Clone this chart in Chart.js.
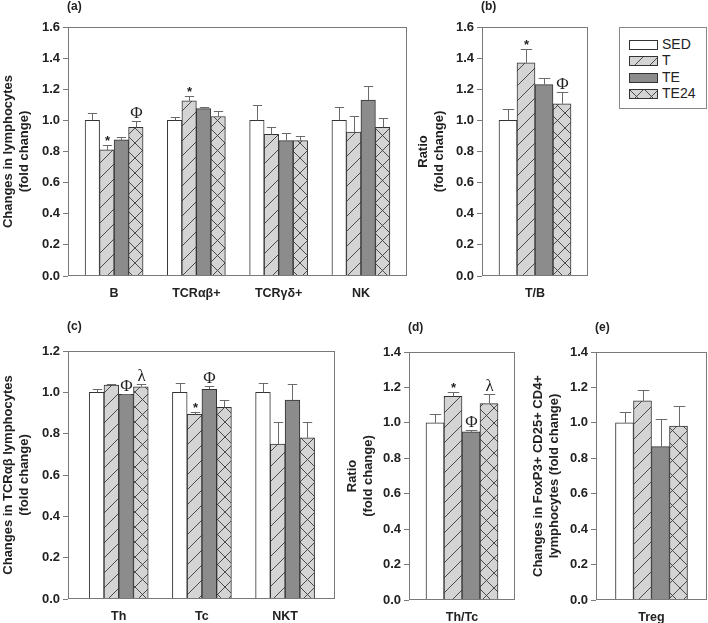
<!DOCTYPE html>
<html>
<head>
<meta charset="utf-8">
<script src="https://cdn.jsdelivr.net/npm/chart.js@4.4.0/dist/chart.umd.min.js"></script>
<style>
  body { margin: 0; background: #fff; }
  #wrap { position: relative; width: 708px; height: 623px; overflow: hidden; font-family: "Liberation Sans", Arial, sans-serif; }
  #wrap canvas { position: absolute; }
  #legend { position: absolute; left: 619px; top: 27px; width: 88px; height: 82px; border: 1px solid #888; box-sizing: border-box; }
  .row { position: absolute; left: 9px; height: 10px; }
  .row canvas { position: absolute; left: 0; top: 0; }
  .row span { position: absolute; left: 33px; top: -4px; font-size: 14px; color: #222; white-space: nowrap; }
</style>
</head>
<body>
<div id="wrap">
  <canvas id="chartA"></canvas>
  <canvas id="chartB"></canvas>
  <canvas id="chartC"></canvas>
  <canvas id="chartD"></canvas>
  <canvas id="chartE"></canvas>
  <div id="legend"></div>
</div>
<script>
const groupNames = ['SED', 'T', 'TE', 'TE24'];

// (a) lymphocyte subsets, mean and SEM
const catsA = ['B', 'TCRαβ+', 'TCRγδ+', 'NK'];
const sedA = [1.00, 1.00, 1.00, 1.00];
const tA = [0.81, 1.125, 0.91, 0.925];
const teA = [0.875, 1.075, 0.87, 1.13];
const te24A = [0.955, 1.025, 0.87, 0.955];
const sedErrA = [0.045, 0.022, 0.097, 0.088];
const tErrA = [0.032, 0.032, 0.045, 0.105];
const teErrA = [0.021, 0.011, 0.049, 0.088];
const te24ErrA = [0.04, 0.034, 0.03, 0.058];
const sigA = [['', '', '', ''], ['*', '*', '', ''], ['', '', '', ''], ['Φ', '', '', '']];

// (b) T/B ratio
const catsB = ['T/B'];
const sedB = [1.00], tB = [1.37], teB = [1.23], te24B = [1.107];
const sedErrB = [0.075], tErrB = [0.088], teErrB = [0.043], te24ErrB = [0.077];
const sigB = [[''], ['*'], [''], ['Φ']];

// (c) TCRαβ subsets
const catsC = ['Th', 'Tc', 'NKT'];
const sedC = [1.00, 1.00, 1.00];
const tC = [1.035, 0.893, 0.75];
const teC = [0.99, 1.015, 0.963];
const te24C = [1.027, 0.927, 0.78];
const sedErrC = [0.018, 0.043, 0.047];
const tErrC = [0.004, 0.013, 0.105];
const teErrC = [0.004, 0.015, 0.075];
const te24ErrC = [0.012, 0.035, 0.075];
const sigC = [['', '', ''], ['', '*', ''], ['Φ', 'Φ', ''], ['λ', '', '']];

// (d) Th/Tc ratio
const catsD = ['Th/Tc'];
const sedD = [1.00], tD = [1.15], teD = [0.949], te24D = [1.109];
const sedErrD = [0.052], tErrD = [0.027], teErrD = [0.013], te24ErrD = [0.056];
const sigD = [[''], ['*'], ['Φ'], ['λ']];

// (e) Treg
const catsE = ['Treg'];
const sedE = [1.00], tE = [1.124], teE = [0.866], te24E = [0.982];
const sedErrE = [0.062], tErrE = [0.06], teErrE = [0.155], te24ErrE = [0.112];
const sigE = [[''], [''], [''], ['']];

const yTicksMax = { A: 1.6, B: 1.6, C: 1.2, D: 1.4, E: 1.4 };

Chart.defaults.font.family = '"Liberation Sans", Arial, sans-serif';
Chart.defaults.color = '#222';

const PAD_TOP = 34;

function makeTile(kind) {
    const s = 15;
    const c = document.createElement('canvas');
    c.width = s; c.height = s;
    const g = c.getContext('2d');
    g.fillStyle = '#d4d4d4';
    g.fillRect(0, 0, s, s);
    g.strokeStyle = '#3a3a3a';
    g.lineWidth = 0.9;
    g.beginPath();
    // forward diagonal "/"
    g.moveTo(-1, s + 1); g.lineTo(s + 1, -1);
    g.moveTo(-1, 1); g.lineTo(1, -1);
    g.moveTo(s - 1, s + 1); g.lineTo(s + 1, s - 1);
    if (kind === 'cross') {
        g.moveTo(-1, -1); g.lineTo(s + 1, s + 1);
        g.moveTo(s - 1, -1); g.lineTo(s + 1, 1);
        g.moveTo(-1, s - 1); g.lineTo(1, s + 1);
    }
    g.stroke();
    return c;
}

function fills(ctx) {
    return [
        '#ffffff',
        ctx.createPattern(makeTile('diag'), 'repeat'),
        '#8c8c8c',
        ctx.createPattern(makeTile('cross'), 'repeat'),
    ];
}

const deco = {
    id: 'deco',
    afterDatasetsDraw(chart, args, opts) {
        const { ctx, chartArea: a, scales: { y } } = chart;
        ctx.save();
        // error bars and significance marks
        chart.data.datasets.forEach((ds, di) => {
            const meta = chart.getDatasetMeta(di);
            meta.data.forEach((bar, i) => {
                const top = Math.round(y.getPixelForValue(ds.data[i].y + ds.err[i])) + 0.5;
                const x = Math.round(bar.x) + 0.5;
                const half = bar.width * 0.32;
                ctx.strokeStyle = '#6a6a6a';
                ctx.lineWidth = 1;
                ctx.beginPath();
                ctx.moveTo(x, bar.y);
                ctx.lineTo(x, top);
                ctx.moveTo(x - half, top);
                ctx.lineTo(x + half, top);
                ctx.stroke();
                const mark = ds.sig[i];
                if (mark) {
                    ctx.fillStyle = '#222';
                    ctx.textAlign = 'center';
                    ctx.textBaseline = 'alphabetic';
                    if (mark === '*') {
                        ctx.font = 'bold 13px "Liberation Sans", Arial, sans-serif';
                        ctx.fillText(mark, x, top - 1);
                    } else {
                        ctx.font = '17px "Liberation Serif", "DejaVu Serif", serif';
                        ctx.fillText(mark, x, top - 4);
                    }
                }
            });
        });
        // plot frame
        ctx.strokeStyle = '#7a7a7a';
        ctx.lineWidth = 1;
        ctx.strokeRect(Math.round(a.left) + 0.5, Math.round(a.top) + 0.5,
            Math.round(a.right - a.left) - 1, Math.round(a.bottom - a.top) - 1);
        // panel letter
        ctx.fillStyle = '#222';
        ctx.font = 'bold 12px "Liberation Sans", Arial, sans-serif';
        ctx.textAlign = 'left';
        ctx.textBaseline = 'middle';
        ctx.fillText(opts.label, a.left - 1, a.top - opts.gap);
        ctx.restore();
    }
};

function makePanel(p) {
    const el = document.getElementById(p.id);
    const [pl, pt, pr, pb] = p.plot;
    const left = pl - p.axisW, top = pt - PAD_TOP;
    const width = pr - left + 2, height = pb - top + p.xH;
    el.style.left = left + 'px';
    el.style.top = top + 'px';
    el.width = width; el.height = height;
    const ctx = el.getContext('2d');
    const f = fills(ctx);
    const datasets = groupNames.map((name, k) => ({
        label: name,
        data: p.vals[k].map((v, i) => ({ x: i, y: v })),
        err: p.errs[k],
        sig: p.sig[k],
        backgroundColor: f[k],
        borderColor: '#333',
        borderWidth: 1,
        barThickness: p.barW,
    }));
    return new Chart(ctx, {
        type: 'bar',
        data: { datasets },
        options: {
            responsive: false,
            animation: false,
            devicePixelRatio: 1,
            layout: { padding: { top: PAD_TOP, right: 2, left: 0, bottom: 0 } },
            plugins: {
                legend: { display: false },
                tooltip: { enabled: false },
                deco: { label: p.label, gap: p.gap },
            },
            scales: {
                x: {
                    type: 'linear',
                    offset: false,
                    min: p.xRange[0],
                    max: p.xRange[1],
                    afterBuildTicks: s => { s.ticks = p.cats.map((c, i) => ({ value: i })); },
                    afterFit: s => { s.height = p.xH; },
                    grid: { display: false },
                    border: { display: false },
                    ticks: {
                        autoSkip: false, maxRotation: 0, padding: 2,
                        font: { size: 12.5, weight: 'bold' },
                        callback: v => p.cats[v],
                    },
                },
                y: {
                    min: 0,
                    max: p.yMax,
                    afterFit: s => { s.width = p.axisW; },
                    grid: { drawOnChartArea: false, drawTicks: true, tickLength: 5, color: '#7a7a7a' },
                    border: { display: false },
                    ticks: {
                        stepSize: 0.2, padding: 3,
                        font: { size: 13, weight: 'bold' },
                        callback: v => v.toFixed(1),
                    },
                    title: {
                        display: true,
                        text: p.title,
                        font: { size: 13, weight: 'bold', lineHeight: 1.23 },
                        padding: { top: 0, bottom: 0 },
                    },
                },
            },
        },
        plugins: [deco],
    });
}

makePanel({ id: 'chartA', label: '(a)', gap: 20, cats: catsA,
    vals: [sedA, tA, teA, te24A], errs: [sedErrA, tErrA, teErrA, te24ErrA], sig: sigA,
    yMax: yTicksMax.A, title: ['Changes in lymphocytes', '(fold change)'],
    plot: [68, 27, 407, 276], axisW: 68, xH: 26, xRange: [-0.56, 3.56], barW: 14.5 });

makePanel({ id: 'chartB', label: '(b)', gap: 20, cats: catsB,
    vals: [sedB, tB, teB, te24B], errs: [sedErrB, tErrB, teErrB, te24ErrB], sig: sigB,
    yMax: yTicksMax.B, title: ['Ratio', '(fold change)'],
    plot: [482, 27, 588, 276], axisW: 67, xH: 26, xRange: [-0.5, 0.5], barW: 18 });

makePanel({ id: 'chartC', label: '(c)', gap: 24, cats: catsC,
    vals: [sedC, tC, teC, te24C], errs: [sedErrC, tErrC, teErrC, te24ErrC], sig: sigC,
    yMax: yTicksMax.C, title: ['Changes in TCRαβ lymphocytes', '(fold change)'],
    plot: [68, 351, 335, 599], axisW: 68, xH: 24, xRange: [-0.61, 2.6], barW: 14.75 });

makePanel({ id: 'chartD', label: '(d)', gap: 24, cats: catsD,
    vals: [sedD, tD, teD, te24D], errs: [sedErrD, tErrD, teErrD, te24ErrD], sig: sigD,
    yMax: yTicksMax.D, title: ['Ratio', '(fold change)'],
    plot: [409, 352, 515, 600], axisW: 65, xH: 23, xRange: [-0.5, 0.5], barW: 18 });

makePanel({ id: 'chartE', label: '(e)', gap: 24, cats: catsE,
    vals: [sedE, tE, teE, te24E], errs: [sedErrE, tErrE, teErrE, te24ErrE], sig: sigE,
    yMax: yTicksMax.E, title: ['Changes in FoxP3+ CD25+ CD4+', 'lymphocytes (fold change)'],
    plot: [596, 352, 707, 600], axisW: 66, xH: 23, xRange: [-0.5, 0.5], barW: 18 });

// legend box
const legend = document.getElementById('legend');
groupNames.forEach((name, k) => {
    const row = document.createElement('div');
    row.className = 'row';
    row.style.top = (12 + k * 16.3) + 'px';
    const sw = document.createElement('canvas');
    sw.width = 29; sw.height = 10;
    const g = sw.getContext('2d');
    g.fillStyle = fills(g)[k];
    g.fillRect(0, 0, 29, 10);
    g.strokeStyle = '#333';
    g.strokeRect(0.5, 0.5, 28, 9);
    const txt = document.createElement('span');
    txt.textContent = name;
    row.appendChild(sw);
    row.appendChild(txt);
    legend.appendChild(row);
});
</script>
</body>
</html>
